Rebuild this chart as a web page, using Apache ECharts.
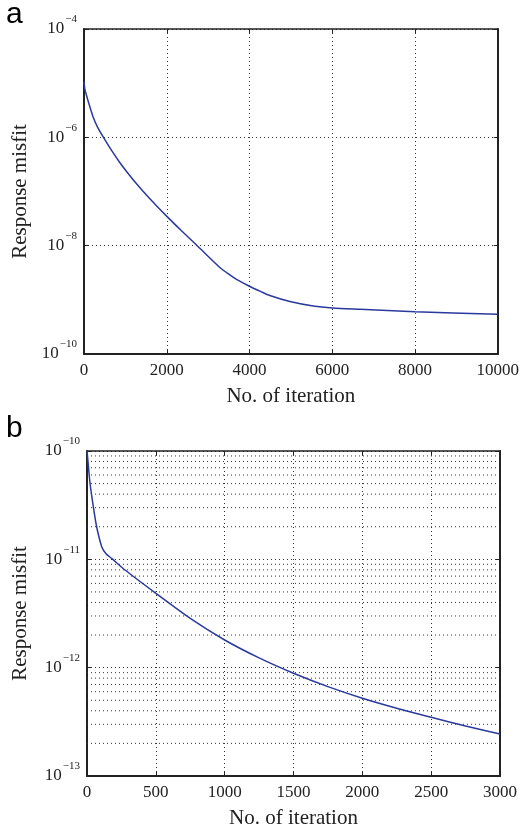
<!DOCTYPE html>
<html>
<head>
<meta charset="utf-8">
<script src="https://cdn.jsdelivr.net/npm/echarts@6/dist/echarts.min.js"></script>
<style>
html,body{margin:0;padding:0;background:#fff;}
#c{width:522px;height:834px;}
</style>
</head>
<body>
<div id="c"></div>
<script>
// Panel a
const topIter = [0, 20, 58, 109, 218, 330, 460, 650, 864, 1100, 1347, 1700, 2008, 2350, 2719, 2799, 3283, 3525, 3687, 4009, 4250, 4492, 4976, 5540, 6009, 6669, 8000, 10000];
const topMisfit = [1.06e-5, 7.8e-6, 6.05e-6, 4.43e-6, 2.40e-6, 1.53e-6, 1.03e-6, 5.98e-7, 3.44e-7, 2.0e-7, 1.19e-7, 6.01e-8, 3.44e-8, 1.91e-8, 1.03e-8, 8.95e-9, 3.95e-9, 2.88e-9, 2.38e-9, 1.76e-9, 1.45e-9, 1.20e-9, 9.31e-10, 7.7e-10, 7.08e-10, 6.7e-10, 6.04e-10, 5.41e-10];
// Panel b
const botIter = [0, 5, 22, 46, 70, 107, 140, 179, 276, 500, 750, 1000, 1250, 1500, 1750, 2000, 2250, 2500, 2750, 3000];
const botMisfit = [1.0e-10, 8.6e-11, 5.04e-11, 3.06e-11, 2.0e-11, 1.31e-11, 1.12e-11, 1.02e-11, 7.97e-12, 4.86e-12, 2.85e-12, 1.80e-12, 1.23e-12, 8.87e-13, 6.68e-13, 5.22e-13, 4.22e-13, 3.48e-13, 2.89e-13, 2.44e-13];
// minor log gridlines of panel b
const minorDecades = [1e-13, 1e-12, 1e-11];
const minorMults = [2, 3, 4, 5, 6, 7, 8, 9];

const xLabel = 'No. of iteration';
const yLabel = 'Response misfit';
const panelLabels = ['a', 'b'];

const SERIF = '"Liberation Serif", "Times New Roman", serif';
const LINE = '#2a3a9c';
const INK = '#222';
const DOT = [1, 3];

function logLabel(v) {
  const e = Math.round(Math.log10(v));
  return '{b|10}{s|\u2212' + Math.abs(e) + '}';
}
const rich = {
  b: {fontFamily: SERIF, fontSize: 17, color: INK},
  s: {fontFamily: SERIF, fontSize: 11, color: INK, padding: [0, 0, 19, 1]}
};

function pairs(xs, ys) { return xs.map((x, i) => [x, ys[i]]); }

function xAx(gi, max, interval) {
  return {
    type: 'value', gridIndex: gi, min: 0, max: max, interval: interval,
    name: xLabel, nameLocation: 'middle', nameGap: 32,
    nameTextStyle: {fontFamily: SERIF, fontSize: 21, color: INK},
    axisLine: {show: true, onZero: false, lineStyle: {color: INK, width: 2}},
    axisTick: {show: true, inside: true, length: 4, lineStyle: {color: INK}},
    axisLabel: {fontFamily: SERIF, fontSize: 17, color: INK, margin: 8, formatter: v => String(v)},
    splitLine: {show: true, lineStyle: {color: '#333', width: 1, type: DOT}}
  };
}
function xAxTop(gi, max, interval) {
  return {
    type: 'value', gridIndex: gi, position: 'top', min: 0, max: max, interval: interval,
    axisLine: {show: true, onZero: false, lineStyle: {color: INK, width: 1.5}},
    axisTick: {show: true, inside: true, length: 4, lineStyle: {color: INK}},
    axisLabel: {show: false}, splitLine: {show: false}
  };
}
function yAx(gi, min, max, interval, gap) {
  return {
    type: 'log', logBase: 10, gridIndex: gi, min: min, max: max, interval: interval,
    name: yLabel, nameLocation: 'middle', nameGap: gap,
    nameTextStyle: {fontFamily: SERIF, fontSize: 21, color: INK},
    axisLine: {show: true, onZero: false, lineStyle: {color: INK, width: 2}},
    axisTick: {show: true, inside: true, length: 4, lineStyle: {color: INK}},
    axisLabel: {formatter: logLabel, rich: rich, margin: 7},
    splitLine: {show: true, lineStyle: {color: '#333', width: 1, type: DOT}},
    minorTick: {show: false}, minorSplitLine: {show: false}
  };
}
function yAxRight(gi, min, max, interval) {
  return {
    type: 'log', logBase: 10, gridIndex: gi, position: 'right', min: min, max: max, interval: interval,
    axisLine: {show: true, onZero: false, lineStyle: {color: INK, width: 2}},
    axisTick: {show: true, inside: true, length: 4, lineStyle: {color: INK}},
    axisLabel: {show: false}, splitLine: {show: false}
  };
}

const minorSeries = [];
minorDecades.forEach(d => minorMults.forEach(m => {
  const v = d * m;
  minorSeries.push({
    type: 'line', xAxisIndex: 1, yAxisIndex: 1, data: [[0, v], [3000, v]],
    showSymbol: false, silent: true, z: 1,
    lineStyle: {color: '#333', width: 1, type: DOT}
  });
}));

const chart = echarts.init(document.getElementById('c'), null, {renderer: 'canvas'});
chart.setOption({
  backgroundColor: '#fff',
  animation: false,
  grid: [
    {left: 84, top: 29, width: 414, height: 325, show: false},
    {left: 87, top: 451, width: 413, height: 325, show: false}
  ],
  xAxis: [xAx(0, 10000, 2000), xAx(1, 3000, 500), xAxTop(0, 10000, 2000), xAxTop(1, 3000, 500)],
  yAxis: [yAx(0, 1e-10, 1e-4, 2, 53), yAx(1, 1e-13, 1e-10, 1, 56), yAxRight(0, 1e-10, 1e-4, 2), yAxRight(1, 1e-13, 1e-10, 1)],
  graphic: [
    {type: 'text', left: 6, top: 0, style: {text: panelLabels[0], font: '30px "Liberation Sans", Arial, sans-serif', fill: '#000'}},
    {type: 'text', left: 6, top: 414, style: {text: panelLabels[1], font: '30px "Liberation Sans", Arial, sans-serif', fill: '#000'}}
  ],
  series: minorSeries.concat([
    {type: 'line', xAxisIndex: 0, yAxisIndex: 0, data: pairs(topIter, topMisfit), showSymbol: false,
     smooth: 0.25, z: 3,
     lineStyle: {color: LINE, width: 1.5}, silent: true},
    {type: 'line', xAxisIndex: 1, yAxisIndex: 1, data: pairs(botIter, botMisfit), showSymbol: false,
     smooth: 0.25, z: 3,
     lineStyle: {color: LINE, width: 1.5}, silent: true}
  ])
});
</script>
</body>
</html>
